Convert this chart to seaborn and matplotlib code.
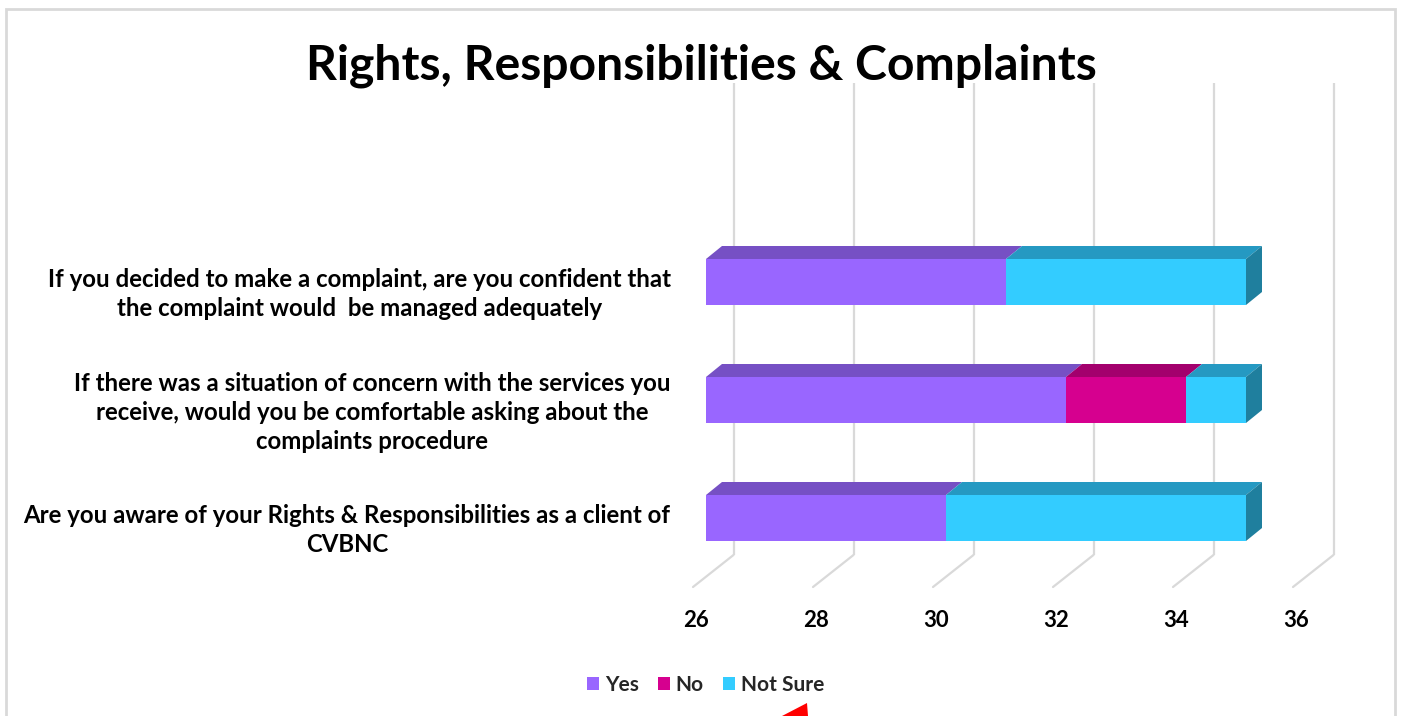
import numpy as np
import pandas as pd
import matplotlib
matplotlib.use("Agg")
import matplotlib.pyplot as plt
from matplotlib.patches import Polygon, Rectangle, Patch
import seaborn as sns

# ---- data -------------------------------------------------------------
questions = [
    "If you decided to make a complaint, are you confident that\nthe complaint would  be managed adequately",
    "If there was a situation of concern with the services you\nreceive, would you be comfortable asking about the\ncomplaints procedure",
    "Are you aware of your Rights & Responsibilities as a client of\nCVBNC",
]
yes = [31, 32, 30]
no = [0, 2, 0]
not_sure = [4, 1, 5]
series = ["Yes", "No", "Not Sure"]
x_ticks = [26, 28, 30, 32, 34, 36]
title = "Rights, Responsibilities & Complaints"

# ---- style ------------------------------------------------------------
front_colors = ["#9966FF", "#D6008F", "#33CCFF"]
top_colors = ["#7650C4", "#A3006D", "#2599C2"]
side_color = "#1F7F9E"
grid_color = "#D9D9D9"

sns.set_style("white")
plt.rcParams["font.family"] = ["Lato", "DejaVu Sans"]
plt.rcParams["font.weight"] = "bold"

W, H = 1403, 716
fig = plt.figure(figsize=(W / 100, H / 100), dpi=100)

# axes geometry (pixel based, 60 px per unit on x, 118 px per category on y)
x_lo, x_hi = 25.7, 36.6
y_top, y_bot = -1.75, 2.6
px_left = 706 + 60 * (x_lo - 26)
px_right = 706 + 60 * (x_hi - 26)
py_top = 282 + 118 * y_top
py_bot = 282 + 118 * y_bot
ax = fig.add_axes([px_left / W, 1 - py_bot / H,
                   (px_right - px_left) / W, (py_bot - py_top) / H])

bar_h = 46 / 118
depth_dx = 16 / 60          # bar depth, x units
depth_dy = -13 / 118        # bar depth, category units (upwards)
back_dx = 27.5 / 60         # back wall offset from bar front plane
front_dx = -13 / 60         # floor front edge offset
back_floor = 273 / 118      # y of back floor line
front_floor = 305 / 118     # y of front floor line
grid_top = -199 / 118

x_min = x_ticks[0]

df = pd.DataFrame({"question": questions, "Yes": yes, "No": no, "Not Sure": not_sure})
df["cum_yes"] = df["Yes"]
df["cum_no"] = df["Yes"] + df["No"]
df["cum_ns"] = df["Yes"] + df["No"] + df["Not Sure"]
cum_cols = ["cum_yes", "cum_no", "cum_ns"]

# back wall gridlines and floor diagonals
for v in x_ticks:
    ax.plot([v + back_dx, v + back_dx], [grid_top, back_floor],
            color=grid_color, lw=1.6, zorder=1, solid_capstyle="butt")
    ax.plot([v + back_dx, v + front_dx], [back_floor, front_floor],
            color=grid_color, lw=1.6, zorder=1)

# front faces: layered cumulative bars
for col, color in reversed(list(zip(cum_cols, front_colors))):
    sns.barplot(data=df, x=col, y="question", color=color, saturation=1,
                width=bar_h, linewidth=0, ax=ax, zorder=3, orient="h")

# bars start at the axis minimum
for p in ax.patches:
    right = p.get_x() + p.get_width()
    p.set_x(x_min)
    p.set_width(right - x_min)

# top and side faces
for i in range(len(questions)):
    seg_vals = [yes[i] - x_min, no[i], not_sure[i]]
    left = x_min
    yt = i - bar_h / 2
    last_right = left
    for k, w in enumerate(seg_vals):
        if w <= 0:
            continue
        r = left + w
        ax.add_patch(Polygon([(left, yt), (r, yt), (r + depth_dx, yt + depth_dy),
                              (left + depth_dx, yt + depth_dy)],
                             closed=True, facecolor=top_colors[k], edgecolor="none", zorder=3))
        left = r
        last_right = r
    ax.add_patch(Polygon([(last_right, yt), (last_right, yt + bar_h),
                          (last_right + depth_dx, yt + bar_h + depth_dy),
                          (last_right + depth_dx, yt + depth_dy)],
                         closed=True, facecolor=side_color, edgecolor="none", zorder=3))

ax.set_xlim(x_lo, x_hi)
ax.set_ylim(y_bot, y_top)
for s in ax.spines.values():
    s.set_visible(False)
ax.grid(False)
ax.set_xlabel("")
ax.set_ylabel("")

ax.set_xticks(np.array(x_ticks) - 0.167, labels=[str(t) for t in x_ticks])
ax.set_yticks(np.arange(len(questions)) + 0.06, labels=questions)
ax.tick_params(axis="x", length=0, pad=15, labelsize=16, labelcolor="#000000")
ax.tick_params(axis="y", length=0, pad=12.5, labelsize=17.3, labelcolor="#000000")
for lbl in ax.get_yticklabels():
    lbl.set_multialignment("center")
    lbl.set_fontweight("bold")
    lbl.set_linespacing(1.32)
for lbl in ax.get_xticklabels():
    lbl.set_fontweight("bold")

fig.text(0.5, 1 - 80 / H, title, ha="center", va="baseline",
         fontsize=34.7, fontweight="bold", color="#000000")

handles = [Patch(facecolor=c, edgecolor="none") for c in front_colors]
fig.legend(handles, series, loc="center", bbox_to_anchor=(705.5 / W, 1 - 685 / H),
           ncol=3, frameon=False, handlelength=0.58, handleheight=0.58,
           handletextpad=0.3, columnspacing=0.9,
           prop={"weight": "bold", "size": 15})

# outer frame
fig.add_artist(Rectangle((6 / W, -0.05), (1395 - 6) / W, 1 - 9 / H + 0.05,
                         fill=False, edgecolor=grid_color, lw=2, transform=fig.transFigure))
# red pointer at the bottom
fig.add_artist(Polygon([(782 / W, 0), (807 / W, 1 - 703 / H), (808 / W, 0)],
                       closed=True, facecolor="#FF0000", edgecolor="none",
                       transform=fig.transFigure))

fig.savefig("out.png", dpi=100)
